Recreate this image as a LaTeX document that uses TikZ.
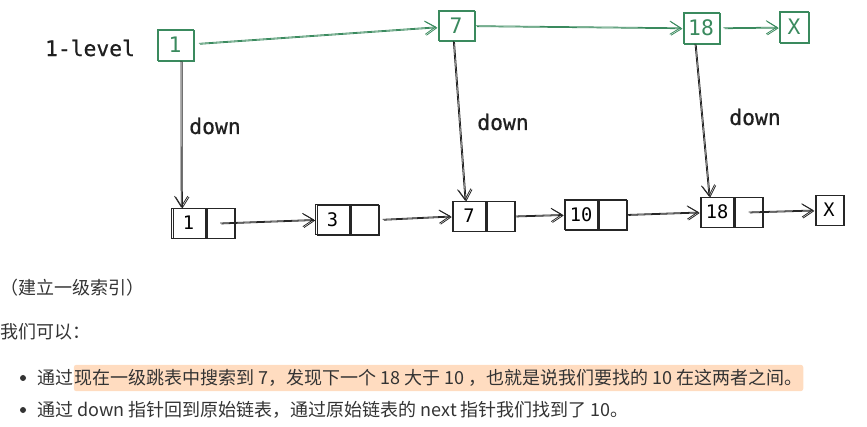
\documentclass[tikz,border=0pt]{standalone}
\usepackage{fontspec}
\newfontfamily\cjk{Noto Sans CJK SC}
\newfontfamily\codefont[FakeBold=0.7]{DejaVu Sans Mono}
\newfontfamily\cellfont{DejaVu Sans Mono}
\usepackage{tikz}
\usetikzlibrary{arrows.meta}
\usetikzlibrary{positioning}
\definecolor{sketchgreen}{HTML}{3A8A5E}
\definecolor{textgray}{HTML}{333333}
\definecolor{hl}{HTML}{FFDCC0}
\tikzset{>={Straight Barb[length=8pt,width=10pt]}}
\tikzset{
    rough/.style = {postaction={draw, transform canvas={shift={(0.9pt,-0.7pt)}}}},
    link/.style = {->, line width=0.6pt, rough},
    glink/.style = {link, sketchgreen},
    vis/.style = {link, black!85},
}
\newcommand\cellheight{22.5pt}
\newcommand\cellwidth{25pt}
\newcommand\nextwidth{21pt}
\tikzset{
    topcell/.style={draw=sketchgreen, text=sketchgreen, line width=0.7pt, minimum width=27pt, minimum height=23pt, inner sep=0pt, font=\cellfont\fontsize{16}{16}\selectfont, rough},
    cell/.style={draw=black!85, line width=0.7pt, minimum width=\cellwidth, minimum height=\cellheight, inner sep=0pt, font=\cellfont\fontsize{14}{14}\selectfont, rough},
    nextcell/.style={cell, minimum width=\nextwidth},
    tag/.style={font=\codefont\fontsize{16}{16}\selectfont, text=black!88},
    body/.style={font=\cjk\fontsize{13.5}{16}\selectfont, text=textgray, inner sep=0pt, anchor=west},
    hlbox/.style={fill=hl, rounded corners=2pt, inner xsep=0.5pt, inner ysep=3.5pt},
    dot/.style={circle, fill=textgray, inner sep=0pt, minimum size=4.5pt},
}

\begin{document}
\begin{tikzpicture}[x=0.75pt,y=-0.75pt]
    \useasboundingbox (0,0) rectangle (867,427);
    % 1-level index
    \node[tag] (level) at (90,48) {1-level};
    \node[topcell] (t1) at (175,45) {1};
    \node[topcell] (t7) at (456,25.5) {7};
    \node[topcell] (t18) at (701,28) {18};
    \node[topcell, minimum width=22pt] (tx) at (794,27) {X};
    \draw[glink, shorten <=4pt, shorten >=1pt] (t1) -- (t7);
    \draw[glink, shorten <=1pt, shorten >=1pt] (t7) -- (t18);
    \draw[glink, shorten <=3pt, shorten >=1pt] (t18) -- (tx);
    % original list
    \node[cell] (b1) at (188.5,223) {1};
    \node[nextcell, right=0pt of b1] (b1n) {};
    \node[cell] (b3) at (332.5,219.5) {3};
    \node[nextcell, right=0pt of b3] (b3n) {};
    \node[cell] (b7) at (469,216) {7};
    \node[nextcell, right=0pt of b7] (b7n) {};
    \node[cell] (b10) at (581,214.5) {10};
    \node[nextcell, right=0pt of b10] (b10n) {};
    \node[cell] (b18) at (717,212) {18};
    \node[nextcell, right=0pt of b18] (b18n) {};
    \node[cell, minimum width=\nextwidth] (bx) at (829,210) {X};
    \draw[vis, shorten >=1pt] (b1n.center) -- (b3.west);
    \draw[vis, shorten <=3pt, shorten >=1pt] (b3n.east) -- (b7.west);
    \draw[vis, shorten >=1pt] (b7n.east) -- (b10.west);
    \draw[vis, shorten >=1pt] (b10n.east) -- (b18.west);
    \draw[vis, shorten >=1pt] (b18n.center) -- (bx.west);
    % down pointers
    \draw[vis] ([xshift=4.5pt]t1.south) -- ([xshift=-5.5pt]b1.north);
    \draw[vis] ([xshift=-2pt]t7.south) -- ([xshift=-3pt]b7.north);
    \draw[vis] ([xshift=-4.5pt]t18.south) -- ([xshift=-6pt]b18.north);
    \node[tag] (down1) at (215,126) {down};
    \node[tag] (down7) at (503,122) {down};
    \node[tag] (down18) at (755,117) {down};
    % explanation
    \node[body] (caption) at (0,288) {（建立一级索引）};
    \node[body] (lead) at (0,332) {我们可以：};
    \node[dot] (dot1) at (23,378) {};
    \node[body] (step1) at (37,378) {通过};
    \node[body, hlbox, right=0pt of step1] (step1hl) {现在一级跳表中搜索到 7，发现下一个 18 大于 10 ，也就是说我们要找的 10 在这两者之间。};
    \node[dot] (dot2) at (23,410) {};
    \node[body] (step2) at (37,410) {通过 down 指针回到原始链表，通过原始链表的 next 指针我们找到了 10。};
\end{tikzpicture}
\end{document}
